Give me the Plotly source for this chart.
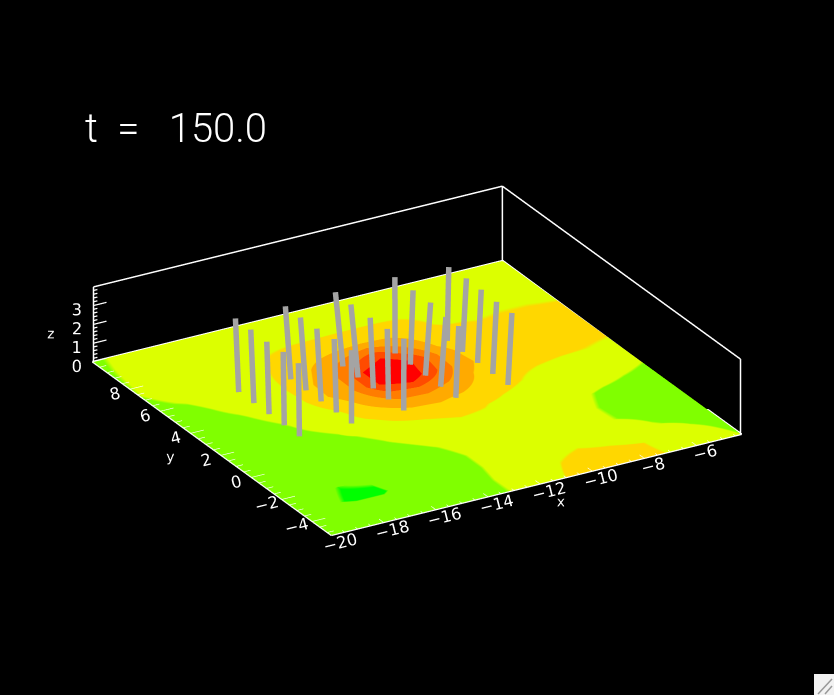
import numpy as np
import plotly.graph_objects as go

x_vals = [-20.0,-18.95,-17.9,-16.85,-15.8,-14.75,-13.7,-12.65,-11.6,-10.55,-9.5,-8.45,-7.4,-6.35,-5.3,-4.25]
y_vals = [10.5,9.45,8.4,7.35,6.3,5.25,4.2,3.15,2.1,1.05,0.0,-1.05,-2.1,-3.15,-4.2,-5.25]
field_rows = [
    [1.92,2.10,2.20,2.30,2.40,2.40,2.40,2.50,2.50,2.50,2.50,2.40,2.40,2.30,2.30,2.20],
    [1.96,2.15,2.30,2.40,2.50,2.60,2.70,2.80,2.80,2.80,2.80,2.70,2.70,2.60,2.60,2.50],
    [1.98,2.20,2.40,2.60,2.75,2.90,2.95,2.95,2.97,2.97,2.95,2.85,2.80,2.80,2.75,2.70],
    [2.00,2.20,2.40,2.60,2.80,3.10,3.35,3.60,3.75,3.75,3.20,2.90,2.90,2.95,2.95,2.90],
    [1.90,2.05,2.30,2.55,2.85,3.30,4.30,5.40,6.40,5.10,3.70,3.30,3.10,3.10,3.10,3.10],
    [1.70,1.85,2.15,2.40,2.75,3.80,4.80,7.00,8.00,6.60,4.30,3.30,3.15,3.20,3.20,3.15],
    [1.60,1.75,1.95,2.25,2.60,3.85,4.85,7.00,7.90,6.20,4.35,3.50,3.20,3.20,3.15,3.10],
    [1.50,1.65,1.80,2.05,2.45,3.10,4.30,5.40,5.50,4.90,3.85,3.20,3.10,3.02,2.98,2.90],
    [1.45,1.55,1.70,1.90,2.15,2.80,3.40,4.00,4.10,3.80,3.30,3.00,2.75,2.60,2.40,2.20],
    [1.40,1.45,1.55,1.70,1.90,2.15,2.70,3.00,3.20,3.05,2.80,2.60,2.40,2.30,2.10,1.95],
    [1.30,1.35,1.50,1.60,1.70,1.95,2.20,2.50,2.70,2.75,2.55,2.35,2.10,1.90,1.80,1.75],
    [1.25,1.30,1.35,1.45,1.55,1.70,1.95,2.20,2.45,2.50,2.40,2.20,2.02,1.80,1.65,1.60],
    [1.20,1.15,0.98,1.05,1.40,1.60,1.80,2.10,2.40,2.60,2.50,2.30,2.03,1.85,1.65,1.50],
    [1.20,1.10,0.90,0.90,1.30,1.60,1.80,2.10,2.50,2.80,2.90,2.70,2.40,2.05,1.85,1.70],
    [1.30,1.35,1.40,1.40,1.50,1.65,1.85,2.15,2.60,3.00,3.20,3.15,3.00,2.60,2.15,1.85],
    [1.40,1.40,1.45,1.45,1.50,1.70,1.90,2.10,2.70,3.20,3.40,3.30,3.05,2.80,2.40,2.02],
]
band_colors = ["#00ff00", "#80ff00", "#dcff00", "#ffd700", "#ffaa00",
               "#ff7d00", "#ff4b00", "#ff0000", "#ff0000"]

rod_base_x = [-17]*5 + [-15]*5 + [-13]*5 + [-11]*5 + [-9]*5
rod_base_y = [6, 5, 4, 3, 2]*5
rod_top_x = [-17.08,-17.08,-17.10,-17.03,-17.04,
             -15.17,-15.18,-15.15,-15.06,-15.00,
             -13.18,-13.22,-13.19,-13.14,-13.05,
             -10.88,-10.88,-10.86,-10.99,-10.98,
             -8.94,-8.88,-8.90,-8.94,-8.94]
rod_top_y = [6.08,5.07,3.98,3.02,2.00,
             6.07,5.06,4.03,3.04,2.00,
             6.19,5.10,3.88,2.84,1.90,
             6.22,5.02,3.90,2.67,1.84,
             6.00,4.94,3.93,2.85,1.84]
rod_height = 3.9

x_range = [-20, -4.25]
y_range = [-5.25, 10.5]
z_range = [0, 4]
x_ticks = [-20, -18, -16, -14, -12, -10, -8, -6]
y_ticks = [-4, -2, 0, 2, 4, 6, 8]
z_ticks = [0, 1, 2, 3]

def segs(pairs):
    xs, ys, zs = [], [], []
    for a, b in pairs:
        xs += [a[0], b[0], None]
        ys += [a[1], b[1], None]
        zs += [a[2], b[2], None]
    return xs, ys, zs

colorscale = []
n = len(band_colors)
for i, c in enumerate(band_colors):
    colorscale += [[i/n, c], [(i+1)/n, c]]

fig = go.Figure()
fig.add_trace(go.Surface(
    x=x_vals, y=y_vals, z=np.zeros((len(y_vals), len(x_vals))),
    surfacecolor=np.array(field_rows), cmin=0, cmax=n,
    colorscale=colorscale, showscale=False, hoverinfo="skip",
    lighting=dict(ambient=1, diffuse=0, specular=0, roughness=1, fresnel=0),
))

# rods
rod_pairs = [((bx, by, 0), (tx, ty, rod_height))
             for bx, by, tx, ty in zip(rod_base_x, rod_base_y, rod_top_x, rod_top_y)]
xs, ys, zs = segs(rod_pairs)
fig.add_trace(go.Scatter3d(x=xs, y=ys, z=zs, mode="lines",
                           line=dict(color="#a4a4a4", width=11), hoverinfo="skip"))

# box (held just inside the axis ranges so that the lines are not clipped)
x0, x1 = x_range; y0, y1 = y_range; z0, z1 = z_range
inset = 0.03
xa, xb = x0 + inset, x1 - inset
ya, yb = y0 + inset, y1 - inset
zb = z1 - inset / 3
thin = [((xa,yb,z0),(xa,yb,zb)), ((xb,yb,z0),(xb,yb,zb)), ((xb,ya,z0),(xb,ya,zb)),
        ((xa,yb,zb),(xb,yb,zb)), ((xb,yb,zb),(xb,ya,zb))]
xs, ys, zs = segs(thin)
fig.add_trace(go.Scatter3d(x=xs, y=ys, z=zs, mode="lines",
                           line=dict(color="white", width=3), hoverinfo="skip"))
floor = [((x0,y1,z0),(x1,y1,z0)), ((x1,y1,z0),(x1,y0,z0))]
xs, ys, zs = segs(floor)
fig.add_trace(go.Scatter3d(x=xs, y=ys, z=zs, mode="lines",
                           line=dict(color="white", width=4), hoverinfo="skip"))

# ticks
tick_pairs = []
for v in np.arange(x0, x1 + .01, 0.5):
    tick_pairs.append(((v, y0, 0), (v, y0 + (0.3 if v in x_ticks else 0.15), 0)))
for v in np.arange(-5, y1 + .01, 0.5):
    tick_pairs.append(((x0, v, 0), (x0 + (0.5 if v in y_ticks else 0.25), v, 0)))
for v in np.arange(z0, zb, 0.2):
    tick_pairs.append(((xa, yb, v), (xa + (0.5 if round(v, 3) in z_ticks else 0.15), yb, v)))
tick_pairs.append(((x0,y0,0),(x1,y0,0)))
tick_pairs.append(((x0,y0,0),(x0,y1,0)))
xs, ys, zs = segs(tick_pairs)
fig.add_trace(go.Scatter3d(x=xs, y=ys, z=zs, mode="lines",
                           line=dict(color="white", width=2.5), hoverinfo="skip"))

def axis(rng, ticks, title, angle=0):
    return dict(range=rng, tickvals=ticks, ticktext=[str(t).replace("-", "\u2212") for t in ticks],
                autorange=False, showgrid=False, zeroline=False, showbackground=False,
                showline=False, ticks="", showspikes=False, tickangle=angle,
                tickfont=dict(color="white", size=14, family="DejaVu Sans"),
                title=dict(text=title, font=dict(color="white", size=14, family="DejaVu Sans")))

fig.update_layout(
    width=834, height=695, margin=dict(l=0, r=0, t=0, b=0),
    paper_bgcolor="black", plot_bgcolor="black", showlegend=False,
    scene=dict(
        domain=dict(x=[0, 1], y=[0, 0.963]),
        bgcolor="black",
        aspectmode="manual", aspectratio=dict(x=1.42, y=1.42, z=0.2485),
        xaxis=axis(x_range, x_ticks, "x", -14),
        yaxis=axis(y_range, y_ticks, "y", -14),
        zaxis=axis(z_range, z_ticks, "z", 0),
        camera=dict(projection=dict(type="orthographic"),
                    eye=dict(x=-0.456, y=-0.783, z=0.423),
                    up=dict(x=0, y=0, z=1),
                    center=dict(x=0, y=0, z=0)),
    ),
    annotations=[dict(text="t\u00a0\u00a0=\u00a0\u00a0\u00a0150.0", xref="paper", yref="paper",
                      x=83/834, y=1-128/695, xanchor="left", yanchor="middle", showarrow=False,
                      font=dict(color="white", size=40, family="Roboto", weight=300))],
    shapes=[dict(type="rect", xref="paper", yref="paper", x0=814/834, x1=1, y0=0, y1=21/695,
                 fillcolor="#f2f2f2", line=dict(width=0)),
            dict(type="line", xref="paper", yref="paper", x0=818/834, x1=832/834, y0=1/695, y1=16/695,
                 line=dict(color="#999999", width=1.5)),
            dict(type="line", xref="paper", yref="paper", x0=825/834, x1=832/834, y0=1/695, y1=9/695,
                 line=dict(color="#999999", width=1.5))],
)
fig.write_html("out.html", config=dict(displayModeBar=False),
               post_script="document.body.style.margin='0';document.body.style.background='black';")
